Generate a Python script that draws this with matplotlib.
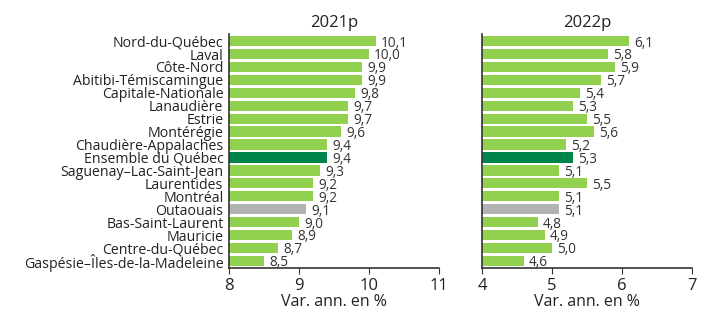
import matplotlib.pyplot as plt

plt.rcParams['font.family'] = ['Open Sans', 'DejaVu Sans']

regions = ["Nord-du-Québec", "Laval", "Côte-Nord", "Abitibi-Témiscamingue",
           "Capitale-Nationale", "Lanaudière", "Estrie", "Montérégie",
           "Chaudière-Appalaches", "Ensemble du Québec", "Saguenay\u2013Lac-Saint-Jean",
           "Laurentides", "Montréal", "Outaouais", "Bas-Saint-Laurent", "Mauricie",
           "Centre-du-Québec", "Gaspésie\u2013Îles-de-la-Madeleine"]
vals_2021 = [10.1, 10.0, 9.9, 9.9, 9.8, 9.7, 9.7, 9.6, 9.4, 9.4, 9.3, 9.2, 9.2, 9.1, 9.0, 8.9, 8.7, 8.5]
vals_2022 = [6.1, 5.8, 5.9, 5.7, 5.4, 5.3, 5.5, 5.6, 5.2, 5.3, 5.1, 5.5, 5.1, 5.1, 4.8, 4.9, 5.0, 4.6]

light = '#92d050'
dark = '#00844a'
grey = '#b2b3b5'
colors = [dark if r == "Ensemble du Québec" else grey if r == "Outaouais" else light for r in regions]

fig = plt.figure(figsize=(7.05, 3.14), dpi=100)
ax1 = fig.add_axes([229/705, 46/314, 210/705, 234/314])
ax2 = fig.add_axes([482/705, 46/314, 210/705, 234/314])

n = len(regions)
ypos = list(range(n))

def draw(ax, vals, lo, hi, title):
    ax.barh(ypos, [v - lo for v in vals], left=lo, height=0.8, color=colors)
    ax.set_xlim(lo, hi)
    ax.set_ylim(n - 0.5 + 0.05, -0.5 - 0.05)
    for y, v in zip(ypos, vals):
        ax.text(v + 0.07, y + 0.15, f"{v:.1f}".replace('.', ','), va='center', ha='left',
                fontsize=9.8, color='#333333')
    ax.set_xticks(range(lo, hi + 1))
    ax.tick_params(axis='x', labelsize=12, length=4, color='#333333', labelcolor='#222222')
    ax.set_xlabel("Var. ann. en %", fontsize=11.5, labelpad=0, color='#222222')
    ax.set_title(title, fontsize=12, pad=5, color='#222222')
    for s in ['top', 'right']:
        ax.spines[s].set_visible(False)
    for s in ['left', 'bottom']:
        ax.spines[s].set_color('#333333')
        ax.spines[s].set_linewidth(1.2)

draw(ax1, vals_2021, 8, 11, "2021p")
draw(ax2, vals_2022, 4, 7, "2022p")

ax1.set_yticks(ypos)
ax1.set_yticklabels(regions, fontsize=10.2, color='#222222')
ax1.tick_params(axis='y', length=0, pad=4)
ax2.set_yticks([])

fig.savefig("out.png", dpi=100)
